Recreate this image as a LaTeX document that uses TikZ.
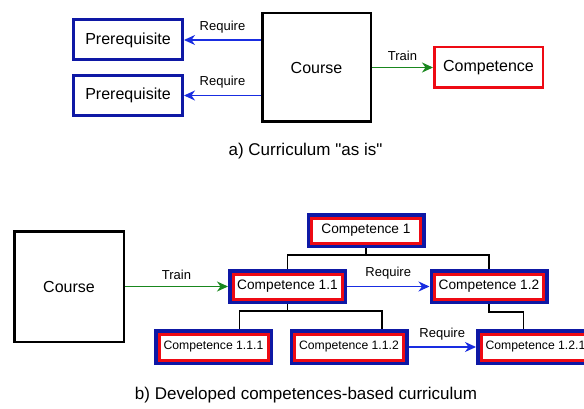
\documentclass[tikz,border=0pt]{standalone}
\usepackage{fontspec}
\setmainfont{Liberation Sans}[Ligatures=TeXOff]
\usepackage{xcolor}
\usetikzlibrary{arrows.meta,positioning,calc}
\definecolor{darkblue}{RGB}{14,24,165}
\definecolor{arrowblue}{RGB}{25,45,225}
\definecolor{compred}{RGB}{238,10,20}
\definecolor{traingreen}{RGB}{25,135,30}

\begin{document}
\begin{tikzpicture}[x = 1pt, y = -1pt, >={Stealth[length=11pt,width=10pt,inset=3.5pt]},
  course/.style = {draw, line width = 2.5pt, inner sep = 0pt, font = \fontsize{16}{19}\selectfont},
  prereq/.style = {draw = darkblue, line width = 3pt, minimum width = 109pt, minimum height = 40pt, inner sep = 0pt, font = \fontsize{16}{19}\selectfont},
  comp/.style = {draw = compred, line width = 2.5pt, minimum width = 108.5pt, minimum height = 40.5pt, inner sep = 0pt, font = \fontsize{16}{19}\selectfont},
  subcomp/.style = {preaction = {draw = darkblue, line width = 10pt}, fill = white, draw = compred, line width = 3pt, minimum width = 109pt, minimum height = 25pt, inner sep = 0pt, outer sep = 5pt, font = \fontsize{13.7}{16}\selectfont},
  leafcomp/.style = {subcomp, font = \fontsize{12.2}{15}\selectfont},
  lbl/.style = {midway, above = 3pt, font = \fontsize{13}{15}\selectfont},
  caption/.style = {font = \fontsize{17}{20}\selectfont}]
\useasboundingbox (0,0) rectangle (584,409);

\node[prereq] (p1) at (128,40) {Prerequisite};
\node[prereq] (p2) at (128,95.5) {Prerequisite};
\node[course, minimum width = 108.5pt, minimum height = 108.5pt] (ca) at (316.5,67.5) {Course};
\node[comp] (cpa) at (488.5,67.5) {Competence};
\node[caption] (capa) at (305.5,151) {a) Curriculum "as is"};

\draw[->, draw = arrowblue, line width = 1.2pt] (p1 -| ca.west) -- node[lbl] {Require} (p1);
\draw[->, draw = arrowblue, line width = 1.2pt] (p2 -| ca.west) -- node[lbl] {Require} (p2);
\draw[->, draw = traingreen, line width = 1.2pt] (ca) -- node[lbl] {Train} (cpa);

\node[course, minimum width = 109.5pt, minimum height = 110.5pt] (cb) at (69,286.5) {Course};
\node[subcomp] (c1) at (366,230.5) {Competence 1};
\node[subcomp] (c11) at (287.5,286.5) {Competence 1.1};
\node[subcomp] (c12) at (489,286.5) {Competence 1.2};
\node[leafcomp, minimum height = 26pt] (c111) at (213.5,347) {Competence 1.1.1};
\node[leafcomp, minimum height = 26pt] (c112) at (349,347) {Competence 1.1.2};
\node[leafcomp, minimum height = 26pt] (c121) at (535.5,347) {Competence 1.2.1};
\node[caption] (capb) at (306,395) {b) Developed competences-based curriculum};

\draw[line width = 1.2pt] (c1.south) -- ++(0,7) -| (c11.north);
\draw[line width = 1.2pt] (c1.south) -- ++(0,7) -| (c12.north);
\draw[line width = 1.2pt] (c11.south) -- ++(0,7) -| ([xshift=26pt]c111.north);
\draw[line width = 1.2pt] (c11.south) -- ++(0,7) -| ([xshift=33pt]c112.north);
\draw[line width = 1.2pt] (c12.south) -- ++(0,8) -| ([xshift=-12pt]c121.north);

\draw[->, draw = traingreen, line width = 1.2pt] (cb) -- node[lbl] {Train} (c11);
\draw[->, draw = arrowblue, line width = 1.2pt] (c11) -- node[lbl] {Require} (c12);
\draw[->, draw = arrowblue, line width = 1.2pt] (c112) -- node[lbl] {Require} (c121);
\end{tikzpicture}
\end{document}
